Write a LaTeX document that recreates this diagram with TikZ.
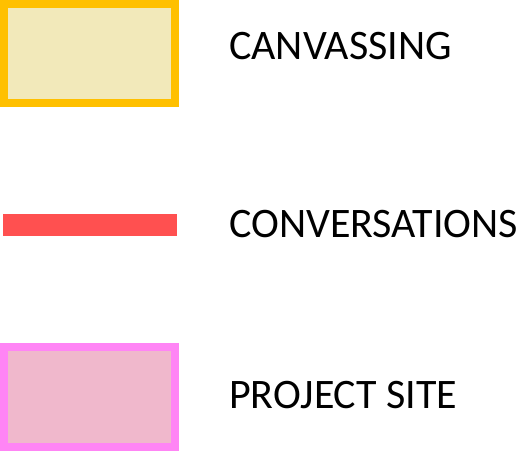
\documentclass[tikz,border=0pt]{standalone}
\usepackage{fontspec}
\setmainfont{Carlito}
\definecolor{canvborder}{HTML}{FFC000}
\definecolor{canvfill}{HTML}{F2E9BA}
\definecolor{convred}{HTML}{FF5050}
\definecolor{siteborder}{HTML}{FF85F5}
\definecolor{sitefill}{HTML}{F0B8CC}
\begin{document}
\begin{tikzpicture}[x=1pt,y=-1pt,
  swatch/.style={draw,line width=8pt,minimum width=171pt,inner sep=0pt,outer sep=0pt},
  label/.style={anchor=base west,inner sep=0pt,font=\fontsize{42}{50}\selectfont}]
\useasboundingbox (0,0) rectangle (524,453);
\node[swatch,draw=canvborder,fill=canvfill,minimum height=99pt] (canv) at (89.5,53.5) {};
\node[label] (canvtxt) at (229,59) {CANVASSING};
\coordinate (redA) at (3,225);
\coordinate (redB) at (177,225);
\draw[convred,line width=22pt] (redA) -- (redB);
\node[label] (convtxt) at (229,237) {CONVERSATIONS};
\node[swatch,draw=siteborder,fill=sitefill,minimum height=100pt] (site) at (89.5,397) {};
\node[label] (sitetxt) at (229,408) {PROJECT SITE};
\end{tikzpicture}
\end{document}
